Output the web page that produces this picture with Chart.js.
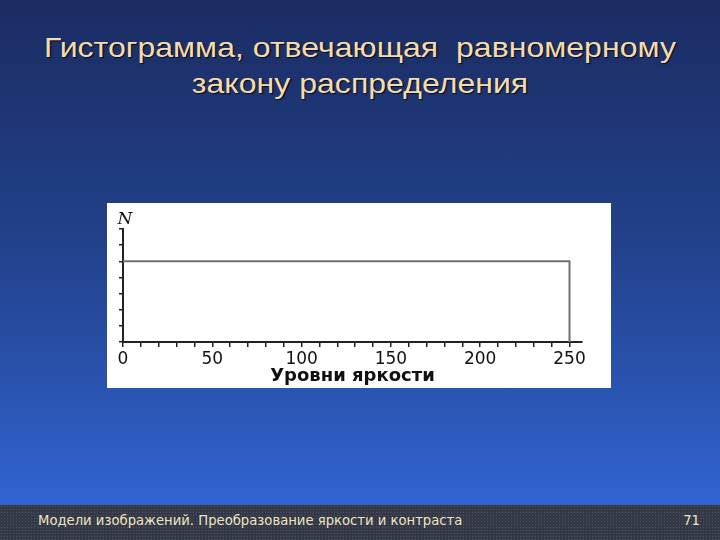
<!DOCTYPE html>
<html lang="ru">
<head>
<meta charset="utf-8">
<script src="https://cdn.jsdelivr.net/npm/chart.js@4"></script>
<style>
  html, body { margin: 0; padding: 0; }
  body {
    width: 720px; height: 540px; position: relative; overflow: hidden;
    background: linear-gradient(to bottom, #1b2c62 0px, #22428c 250px, #3163d0 505px);
    font-family: "Liberation Sans", Arial, sans-serif;
  }
  .title {
    position: absolute; left: 0; top: 30px; width: 720px;
    text-align: center; color: #f6dcac; font-size: 28px; line-height: 36px;
    text-shadow: 1px 1px 1px #070b1c;
    transform: scaleX(1.145); transform-origin: 360px 0;
  }
  .box {
    position: absolute; left: 107px; top: 203px; width: 504px; height: 185px;
    background: #fff;
  }
  .footer {
    position: absolute; left: 0; top: 505px; width: 720px; height: 35px;
    background-color: #333946;
    background-image: radial-gradient(#4a5263 0.7px, transparent 0.8px);
    background-size: 3px 3px;
    font-family: "DejaVu Sans", sans-serif; font-size: 13.2px; color: #f2e3c0;
  }
  .footer .left { position: absolute; left: 38px; top: 8px; }
  .footer .right { position: absolute; right: 20px; top: 8px; }
</style>
</head>
<body>
<div class="title">Гистограмма, отвечающая&nbsp; равномерному<br>закону распределения</div>
<div class="box"><canvas id="myChart" width="504" height="185"></canvas></div>
<div class="footer">
  <span class="left">Модели изображений. Преобразование яркости и контраста</span>
  <span class="right">71</span>
</div>
<script>
// гистограмма равномерного закона: одинаковое N для всех уровней 0..250
const levels = [0, 250, 250];
const counts = [5, 5, 0];
const xLabels = [0, 50, 100, 150, 200, 250];

// буква N над осью
const axisLetter = {
  id: "axisLetter",
  afterDraw(chart) {
    const ctx = chart.ctx;
    const x = chart.scales.x.getPixelForValue(0);
    ctx.save();
    ctx.font = 'italic 17px "DejaVu Serif", serif';
    ctx.fillStyle = "#111";
    ctx.textAlign = "center";
    ctx.textBaseline = "middle";
    ctx.fillText("N", x + 2, chart.chartArea.top - 9);
    ctx.restore();
  },
};

function grafiek() {
  const myChart = document.getElementById("myChart");
  const points = [];
  for (let i = 0; i < levels.length; i++) {
    points.push({ x: levels[i], y: counts[i] });
  }

  new Chart(myChart, {
    type: "line",
    data: {
      datasets: [
        {
          data: points,
          borderColor: "#707070",
          borderWidth: 2,
          pointRadius: 0,
          fill: false,
          tension: 0,
        },
      ],
    },
    options: {
      responsive: false,
      animation: false,
      layout: { padding: { top: 26, right: 29, left: 0, bottom: 0 } },
      plugins: { legend: { display: false }, tooltip: { enabled: false } },
      scales: {
        x: {
          type: "linear",
          min: 0,
          max: 257,
          afterFit(scale) { scale.height = 46; },
          afterBuildTicks(scale) {
            scale.ticks = scale.ticks.filter((t) => t.value % 10 === 0);
          },
          border: { color: "#222", width: 2 },
          grid: { drawOnChartArea: false, drawTicks: true, tickLength: 5, color: "#222", lineWidth: 1.5 },
          ticks: {
            stepSize: 10,
            includeBounds: false,
            autoSkip: false,
            maxRotation: 0,
            padding: 2,
            color: "#111",
            font: { family: "DejaVu Sans", size: 17 },
            callback: (v) => (xLabels.includes(v) ? String(v) : ""),
          },
          title: {
            display: true,
            text: "Уровни яркости",
            color: "#111",
            font: { family: "DejaVu Sans", size: 18, weight: "bold" },
            padding: { top: 0, bottom: 1 },
          },
        },
        y: {
          min: 0,
          max: 7,
          afterFit(scale) { scale.width = 16; },
          border: { color: "#222", width: 2 },
          grid: { drawOnChartArea: false, drawTicks: true, tickLength: 4, color: "#222", lineWidth: 1.5 },
          ticks: { display: false, stepSize: 1 },
        },
      },
    },
    plugins: [axisLetter],
  });
}

grafiek();
</script>
</body>
</html>
